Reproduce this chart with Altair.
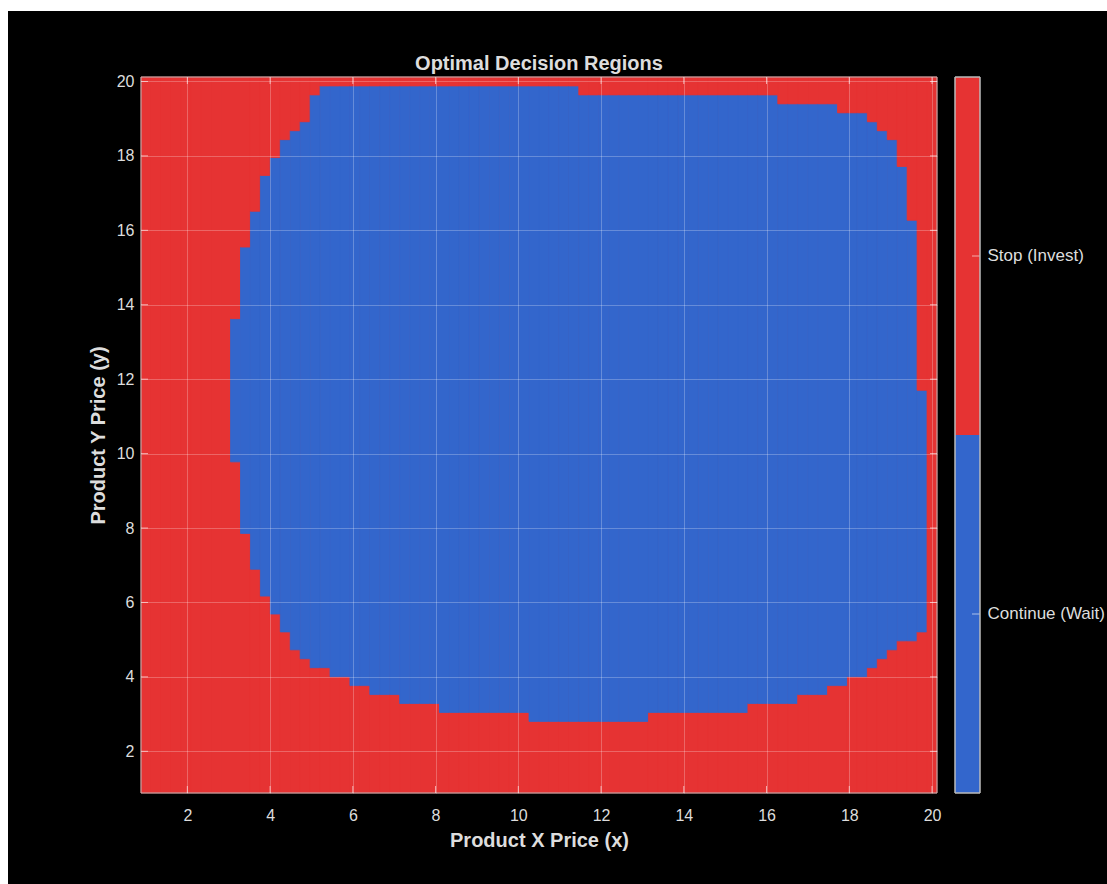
import altair as alt
import pandas as pd

# ---- data -----------------------------------------------------------------
PRICE_MIN, PRICE_MAX, N_GRID = 1.0, 20.0, 80          # 80 x 80 price grid
STOP = "Stop (Invest)"
CONT = "Continue (Wait)"

# columns 9 .. 78 contain a "Continue" band; other columns are all "Stop"
FIRST_CONT_COL = 9
# lowest / highest grid row of the Continue (Wait) band in each column
cont_low_row = [37, 29, 25, 22, 20, 18, 16, 15, 14, 14,
                13, 13, 12, 12, 11, 11, 11, 10, 10, 10,
                10, 9, 9, 9, 9, 9, 9, 9, 9, 9,
                8, 8, 8, 8, 8, 8, 8, 8, 8, 8,
                8, 8, 9, 9, 9, 9, 9, 9, 9, 9,
                9, 9, 10, 10, 10, 10, 10, 11, 11, 11,
                12, 12, 13, 13, 14, 15, 16, 17, 17, 18]
cont_high_row = [52, 60, 64, 68, 70, 72, 73, 74, 77, 78,
                 78, 78, 78, 78, 78, 78, 78, 78, 78, 78,
                 78, 78, 78, 78, 78, 78, 78, 78, 78, 78,
                 78, 78, 78, 78, 78, 77, 77, 77, 77, 77,
                 77, 77, 77, 77, 77, 77, 77, 77, 77, 77,
                 77, 77, 77, 77, 77, 76, 76, 76, 76, 76,
                 76, 75, 75, 75, 74, 73, 72, 69, 63, 44]
tick_values = [2, 4, 6, 8, 10, 12, 14, 16, 18, 20]
decisions = [STOP, CONT]
decision_colors = ["#e63333", "#3366cc"]

# ---- build cell runs ---------------------------------------------------------
step = (PRICE_MAX - PRICE_MIN) / (N_GRID - 1)
half = step / 2
records = []
for i in range(N_GRID):
    xc = PRICE_MIN + i * step
    k = i - FIRST_CONT_COL
    if 0 <= k < len(cont_low_row):
        lo, hi = cont_low_row[k], cont_high_row[k]
        runs = [(0, lo - 1, STOP), (lo, hi, CONT), (hi + 1, N_GRID - 1, STOP)]
    else:
        runs = [(0, N_GRID - 1, STOP)]
    for a, b, lab in runs:
        if a > b:
            continue
        records.append({
            "x0": xc - half, "x1": xc + half,
            "y0": PRICE_MIN + a * step - half, "y1": PRICE_MIN + b * step + half,
            "decision": lab,
        })
cells = pd.DataFrame(records)

domain = [PRICE_MIN - half, PRICE_MAX + half]
full = pd.DataFrame({"x0": [domain[0]], "x1": [domain[1]],
                     "y0": [domain[0]], "y1": [domain[1]]})
ticks_df = pd.DataFrame({"v": tick_values})
color_scale = alt.Scale(domain=decisions, range=decision_colors)
FONT = "Liberation Sans"
TXT = "#dddddd"
W, H = 796, 716

bg = alt.Chart(pd.DataFrame({"k": [0]})).mark_rect(color="black").encode(
    x=alt.value(-133), x2=alt.value(966), y=alt.value(-66), y2=alt.value(807)
)

xscale = alt.Scale(domain=domain, nice=False, zero=False)
yscale = alt.Scale(domain=domain, nice=False, zero=False)
xaxis = alt.Axis(values=tick_values, title="Product X Price (x)",
                 labelPadding=14, titlePadding=7, format="d", zindex=2)
yaxis = alt.Axis(values=tick_values, title="Product Y Price (y)",
                 labelPadding=7, titlePadding=8, format="d", zindex=2)

underlay = alt.Chart(full).mark_rect(color=decision_colors[0]).encode(
    x=alt.X("x0:Q", scale=xscale, axis=xaxis), x2="x1:Q",
    y=alt.Y("y0:Q", scale=yscale, axis=yaxis), y2="y1:Q",
)

heat = alt.Chart(cells).mark_rect(strokeWidth=0.8, strokeOpacity=1, fillOpacity=1).encode(
    x=alt.X("x0:Q", scale=xscale, axis=xaxis),
    x2="x1:Q",
    y=alt.Y("y0:Q", scale=yscale, axis=yaxis),
    y2="y1:Q",
    fill=alt.Fill("decision:N", scale=color_scale, legend=None),
    stroke=alt.Stroke("decision:N", scale=color_scale, legend=None),
)

frame = alt.Chart(full).mark_rect(filled=False, stroke="#bbbbbb", strokeWidth=1).encode(
    x=alt.X("x0:Q", scale=xscale, axis=xaxis), x2="x1:Q",
    y=alt.Y("y0:Q", scale=yscale, axis=yaxis), y2="y1:Q",
)

TICK_LEN = 7
tick_style = dict(color="#ffffff", opacity=0.6, thickness=1, size=TICK_LEN)
tick_left = alt.Chart(ticks_df).mark_tick(orient="horizontal", **tick_style).encode(
    y=alt.Y("v:Q", scale=yscale, axis=yaxis), x=alt.value(TICK_LEN / 2))
tick_right = alt.Chart(ticks_df).mark_tick(orient="horizontal", **tick_style).encode(
    y=alt.Y("v:Q", scale=yscale, axis=yaxis), x=alt.value(W - TICK_LEN / 2))
tick_bottom = alt.Chart(ticks_df).mark_tick(orient="vertical", **tick_style).encode(
    x=alt.X("v:Q", scale=xscale, axis=xaxis), y=alt.value(H - TICK_LEN / 2))
tick_top = alt.Chart(ticks_df).mark_tick(orient="vertical", **tick_style).encode(
    x=alt.X("v:Q", scale=xscale, axis=xaxis), y=alt.value(TICK_LEN / 2))

main = alt.layer(bg, underlay, heat, frame,
                 tick_left, tick_right, tick_bottom, tick_top).properties(
    width=W, height=H,
    title=alt.TitleParams("Optimal Decision Regions", fontSize=20, fontWeight="bold",
                          color=TXT, font=FONT, anchor="middle", offset=-63, zindex=2),
)

cb_base = alt.Chart(pd.DataFrame({"label": decisions}))
cb_y = alt.Y("label:N", sort=decisions,
             scale=alt.Scale(paddingInner=0, paddingOuter=0),
             axis=alt.Axis(orient="right", title=None, domain=False, ticks=False,
                           labelPadding=7, labelFontSize=17, labelColor=TXT,
                           labelFont=FONT, grid=False, zindex=2))
cb_rect = cb_base.mark_rect().encode(
    y=cb_y,
    color=alt.Color("label:N", scale=color_scale, legend=None),
)
cb_ticks = cb_base.mark_tick(orient="horizontal", color="#ffffff", opacity=0.6,
                             thickness=1, size=8).encode(y=cb_y, x=alt.value(21))
cb_frame = cb_base.mark_rect(filled=False, stroke="#bbbbbb", strokeWidth=1).encode(
    x=alt.value(0), x2=alt.value(25), y=alt.value(0), y2=alt.value(H))
colorbar = alt.layer(cb_rect, cb_ticks, cb_frame).properties(width=25, height=H)

chart = alt.hconcat(main, colorbar, spacing=18, bounds="flush").resolve_scale(
    x="independent", y="independent"
).configure(
    background="white",
    padding={"left": 8, "top": 11, "right": 0, "bottom": 0},
    font=FONT,
).configure_view(
    stroke=None
).configure_axis(
    labelColor=TXT, titleColor=TXT, labelFont=FONT, titleFont=FONT,
    labelFontSize=16, titleFontSize=20, titleFontWeight="bold",
    gridColor="#ffffff", gridOpacity=0.25, gridWidth=1,
    domain=False, ticks=False,
)

chart.save("out.html", embed_options={"renderer": "svg", "actions": False})
